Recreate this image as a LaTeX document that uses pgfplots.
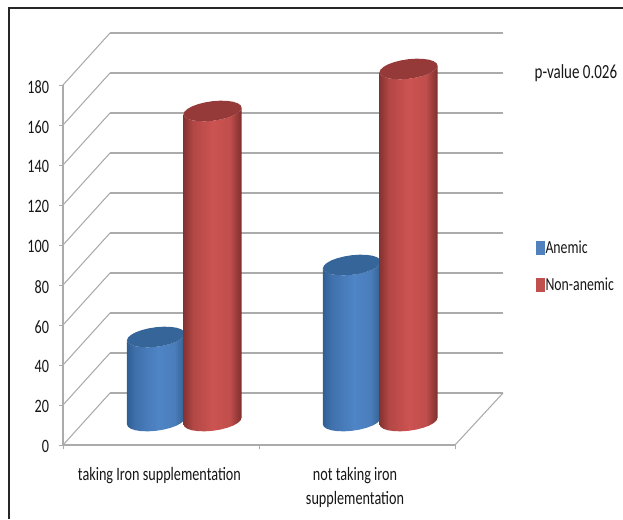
\documentclass[border=0pt]{standalone}
\usepackage{fontspec}
\setmainfont[FakeStretch=0.75]{Carlito}
\usepackage{pgfplots}
\pgfplotsset{compat=1.18}
\usepackage{pgfplotstable}

\definecolor{wallgrey}{HTML}{ABABAB}
\definecolor{textdark}{HTML}{161616}
\definecolor{anemic}{HTML}{4F81BD}
\definecolor{nonanemic}{HTML}{C0504D}
\definecolor{anemictop}{HTML}{36659A}
\definecolor{nonanemictop}{HTML}{953A38}

\definecolor{blueA}{HTML}{2F5F92}\definecolor{blueB}{HTML}{3F70AC}
\definecolor{blueC}{HTML}{4F85C6}\definecolor{blueD}{HTML}{4A7DBB}
\definecolor{blueE}{HTML}{33608F}
\definecolor{redA}{HTML}{853331}\definecolor{redB}{HTML}{B24745}
\definecolor{redC}{HTML}{CC5351}\definecolor{redD}{HTML}{C04E4C}
\definecolor{redE}{HTML}{7D2E2C}

% Lighting across each cylinder, dark rim to bright centre to dark rim
\pgfdeclarehorizontalshading{anemicbody}{100bp}{
  color(0bp)=(blueA);color(25bp)=(blueA);color(32bp)=(blueB);
  color(52bp)=(blueC);color(66bp)=(blueD);color(75bp)=(blueE);color(100bp)=(blueE)}
\pgfdeclarehorizontalshading{nonanemicbody}{100bp}{
  color(0bp)=(redA);color(25bp)=(redA);color(33bp)=(redB);
  color(50bp)=(redC);color(65bp)=(redD);color(75bp)=(redE);color(100bp)=(redE)}

% Counts per group
\def\AnemicTaking{42}
\def\NonAnemicTaking{155}
\def\AnemicNotTaking{78}
\def\NonAnemicNotTaking{176}
% Height of the cylinders' foot above the front edge of the floor
\def\floorlift{12}

% Tilted ellipse of a cylinder's end, offsets in axis units
\pgfplotstableread{
u v
0.148 1.65
0.143 2.86
0.128 3.88
0.105 4.63
0.074 5.07
0.038 5.16
0.000 4.90
-0.038 4.31
-0.074 3.42
-0.105 2.30
-0.128 1.02
-0.143 -0.33
-0.148 -1.65
-0.143 -2.86
-0.128 -3.88
-0.105 -4.63
-0.074 -5.07
-0.038 -5.16
0.000 -4.90
0.038 -4.31
0.074 -3.42
0.105 -2.30
0.128 -1.02
0.143 0.33
}\capoutline

% Silhouette of a cylinder's side; h=0 at the foot, h=1 at the top
\pgfplotstableread{
u v h
-0.148 -1.65 0
-0.143 -2.86 0
-0.128 -3.88 0
-0.105 -4.63 0
-0.074 -5.07 0
-0.038 -5.16 0
0.000 -4.90 0
0.038 -4.31 0
0.074 -3.42 0
0.105 -2.30 0
0.128 -1.02 0
0.143 0.33 0
0.148 1.65 0
0.148 1.65 1
0.143 0.33 1
0.128 -1.02 1
0.105 -2.30 1
0.074 -3.42 1
0.038 -4.31 1
0.000 -4.90 1
-0.038 -5.16 1
-0.074 -5.07 1
-0.105 -4.63 1
-0.128 -3.88 1
-0.143 -2.86 1
-0.148 -1.65 1
}\sideoutline

% #1 centre on the x axis, #2 value, #3 body shading, #4 cap colour
\newcommand{\cylinder}[4]{%
  \addplot[forget plot, draw=none, shading=#3] table[
    x expr=#1+\thisrow{u},
    y expr=\floorlift+\thisrow{v}+\thisrow{h}*#2] {\sideoutline} -- cycle;
  \addplot[forget plot, draw=none, fill=#4] table[
    x expr=#1+\thisrow{u},
    y expr=\floorlift+#2+\thisrow{v}] {\capoutline} -- cycle;
}

\begin{document}
\begin{tikzpicture}[x=1pt,y=1pt]
\useasboundingbox (0,0) rectangle (467.25,389.25);
% Frame of the figure: top and left edges only
\draw[line width=1.1pt,color=black!85] (6.6,0) -- (6.6,383.2) -- (467.25,383.2);
\begin{axis}[
  at={(47.25pt,55.5pt)}, anchor=south west,
  scale only axis, width=294pt, height=270pt,
  xmin=0, xmax=2, ymin=0, ymax=180,
  clip=false,
  axis x line*=bottom, axis y line*=left,
  axis line style={wallgrey, line width=1pt},
  tick style={wallgrey, line width=0.7pt},
  major tick length=3.2pt,
  tick align=outside,
  ytick={0,20,...,180},
  xtick={0,1,2}, xticklabels={},
  extra x ticks={0.492,1.49},
  extra x tick labels={taking Iron supplementation,{not taking iron\\supplementation}},
  extra x tick style={major tick length=0pt,
    xticklabel style={font=\fontsize{14.2}{18}\selectfont, text=textdark, align=center,
      anchor=north, yshift=-13.5pt}},
  yticklabel style={font=\fontsize{14.2}{15}\selectfont, text=textdark, xshift=-3.8pt, yshift=-1.3pt},
  /pgf/number format/assume math mode=true,
  legend style={at={(1.205,0.572)}, anchor=north west, draw=none, fill=none,
    font=\fontsize{13.8}{15}\selectfont, text=textdark, row sep=14.5pt,
    inner sep=0pt, nodes={inner sep=1pt},
    /tikz/every even column/.style={column sep=3pt}},
  legend cell align=left,
  unbounded coords=jump,
]
% Gridlines along the back wall, joined to the front axis by the side wall
\addplot[forget plot, wallgrey, line width=1.3pt] coordinates {
  (0.24,26) (2.245,26) (nan,nan)
  (0.24,46) (2.245,46) (nan,nan)
  (0.24,66) (2.245,66) (nan,nan)
  (0.24,86) (2.245,86) (nan,nan)
  (0.24,106) (2.245,106) (nan,nan)
  (0.24,126) (2.245,126) (nan,nan)
  (0.24,146) (2.245,146) (nan,nan)
  (0.24,166) (2.245,166) (nan,nan)
  (0.24,186) (2.245,186) (nan,nan)
  (0.24,206) (2.245,206)
};
\addplot[forget plot, wallgrey, line width=0.8pt] coordinates {
  (0,0) (0.24,26) (nan,nan)
  (0,20) (0.24,46) (nan,nan)
  (0,40) (0.24,66) (nan,nan)
  (0,60) (0.24,86) (nan,nan)
  (0,80) (0.24,106) (nan,nan)
  (0,100) (0.24,126) (nan,nan)
  (0,120) (0.24,146) (nan,nan)
  (0,140) (0.24,166) (nan,nan)
  (0,160) (0.24,186) (nan,nan)
  (0,180) (0.24,206) (nan,nan)
  (2,0) (2.245,26)
};
% Cylinders, the blue one of each pair behind the red one
\cylinder{0.4745}{\AnemicTaking}{anemicbody}{anemictop}
\cylinder{0.763}{\NonAnemicTaking}{nonanemicbody}{nonanemictop}
\cylinder{1.474}{\AnemicNotTaking}{anemicbody}{anemictop}
\cylinder{1.763}{\NonAnemicNotTaking}{nonanemicbody}{nonanemictop}
% Legend keys: narrow upright swatches
\addlegendimage{legend image code/.code={\fill[anemic] (0pt,-4.9pt) rectangle (6pt,4.9pt);}}
\addlegendentry{Anemic}
\addlegendimage{legend image code/.code={\fill[nonanemic] (0pt,-4.9pt) rectangle (6pt,4.9pt);}}
\addlegendentry{Non-anemic}
\node[font=\fontsize{15}{16}\selectfont, text=textdark, anchor=center] at (axis cs:2.617,186) {p-value 0.026};
\end{axis}
\end{tikzpicture}
\end{document}
